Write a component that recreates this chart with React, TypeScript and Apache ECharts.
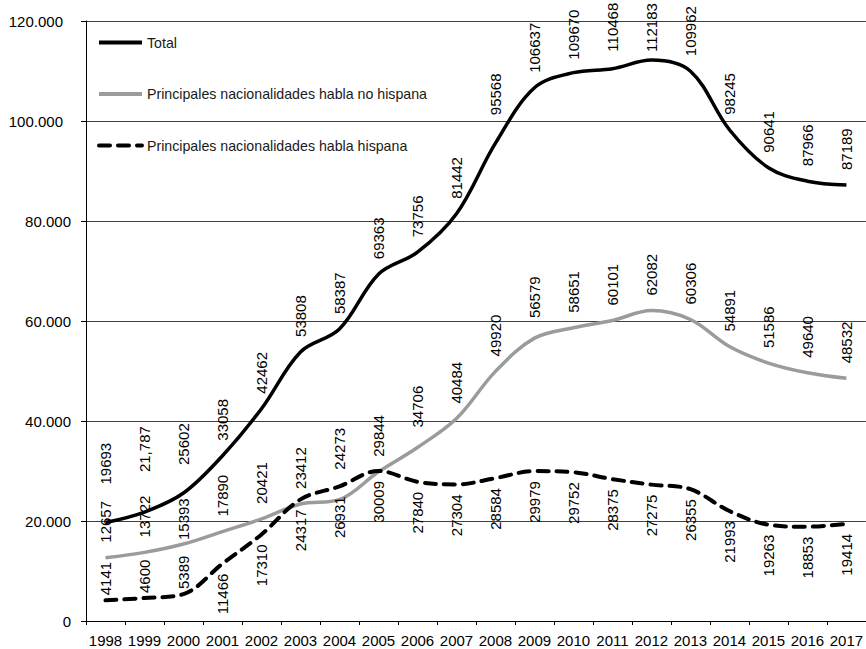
import React, { useEffect, useRef } from "react";
import * as echarts from "echarts";

const years = ["1998", "1999", "2000", "2001", "2002", "2003", "2004", "2005", "2006", "2007", "2008", "2009", "2010", "2011", "2012", "2013", "2014", "2015", "2016", "2017"];
const total = [19693, 21787, 25602, 33058, 42462, 53808, 58387, 69363, 73756, 81442, 95568, 106637, 109670, 110468, 112183, 109962, 98245, 90641, 87966, 87189];
const noHispana = [12657, 13722, 15393, 17890, 20421, 23412, 24273, 29844, 34706, 40484, 49920, 56579, 58651, 60101, 62082, 60306, 54891, 51586, 49640, 48532];
const hispana = [4141, 4600, 5389, 11466, 17310, 24317, 26931, 30009, 27840, 27304, 28584, 29979, 29752, 28375, 27275, 26355, 21993, 19263, 18853, 19414];
const yTickLabels = ["0", "20.000", "40.000", "60.000", "80.000", "100.000", "120.000"];
const seriesNames = ["Total", "Principales nacionalidades habla no hispana", "Principales nacionalidades habla hispana"];
const labelTextOverrides: Record<string, string> = { "0-1": "21,787" };

const FONT = '"Liberation Sans", Arial, Helvetica, sans-serif';

// label distance tweaks (style only)
const totalDist: Record<number, number> = { 0: 38, 1: 40, 2: 28, 10: 28, 14: 8, 13: 17, 12: 13 };
const greyDist: Record<number, number> = { 2: 4, 6: 30, 8: 20, 11: 20 };

export default function App() {
  const ref = useRef<HTMLDivElement>(null);
  useEffect(() => {
    if (!ref.current) return;
    const chart = echarts.init(ref.current, undefined, { renderer: "svg" });
    const baseLabel = {
      show: true,
      rotate: 90,
      fontSize: 15,
      fontFamily: FONT,
      color: "#000",
      verticalAlign: "middle" as const,
    };
    const labelFmt = (sIdx: number) => (p: any) =>
      labelTextOverrides[`${sIdx}-${p.dataIndex}`] ?? String(p.value);
    const above = (d: number) => ({ position: "top", align: "left", distance: d });
    const below = (d: number) => ({ position: "bottom", align: "right", distance: d });

    chart.setOption({
      animation: false,
      textStyle: { fontFamily: FONT },
      grid: { left: 86, top: 21, width: 785, height: 600 },
      legend: {
        orient: "vertical",
        left: 97,
        top: 35.5,
        padding: 0,
        itemGap: 37.5,
        itemWidth: 43,
        itemHeight: 17,
        data: seriesNames,
        textStyle: { fontSize: 14.2, fontFamily: FONT, color: "#1a1a1a" },
        itemStyle: { opacity: 0 },
        lineStyle: { width: 4 },
      },
      xAxis: {
        type: "category",
        data: years,
        boundaryGap: true,
        axisLine: { lineStyle: { color: "#000", width: 1 } },
        axisTick: { show: true, length: 4, interval: 0, lineStyle: { color: "#000" } },
        axisLabel: { interval: 0, margin: 12, fontSize: 15, fontFamily: FONT, color: "#000" },
      },
      yAxis: {
        type: "value",
        min: 0,
        max: 120000,
        interval: 20000,
        axisLine: { show: true, lineStyle: { color: "#000", width: 1 } },
        axisTick: { show: true, length: 5, lineStyle: { color: "#000" } },
        splitLine: { show: true, lineStyle: { color: "#404040", width: 1 } },
        axisLabel: {
          margin: 15,
          formatter: (v: number) => {
            const s = yTickLabels[Math.round(v / 20000)];
            return v >= 100000 ? `{w|${s}}` : `{n|${s}}`;
          },
          rich: {
            w: { fontSize: 15, fontFamily: FONT, color: "#000", padding: [0, 8, 0, 0] },
            n: { fontSize: 15, fontFamily: FONT, color: "#000" },
          },
        },
      },
      series: [
        {
          name: seriesNames[0],
          type: "line",
          smooth: 0.35,
          symbol: "circle",
          symbolSize: 0,
          showSymbol: true,
          lineStyle: { color: "#000", width: 3.5 },
          itemStyle: { color: "#000" },
          label: { ...baseLabel, formatter: labelFmt(0) },
          data: total.map((v, i) => ({ value: v, label: above(totalDist[i] ?? 15) })),
          z: 3,
        },
        {
          name: seriesNames[1],
          type: "line",
          smooth: 0.35,
          symbol: "circle",
          symbolSize: 0,
          showSymbol: true,
          lineStyle: { color: "#9b9b9b", width: 3.5 },
          itemStyle: { color: "#9b9b9b" },
          label: { ...baseLabel, formatter: labelFmt(1) },
          data: noHispana.map((v, i) => ({ value: v, label: above(greyDist[i] ?? 15) })),
          z: 2,
        },
        {
          name: seriesNames[2],
          type: "line",
          smooth: 0.35,
          symbol: "circle",
          symbolSize: 0,
          showSymbol: true,
          lineStyle: { color: "#000", width: 4, type: [11, 8], cap: "round" },
          itemStyle: { color: "#000" },
          label: { ...baseLabel, formatter: labelFmt(2) },
          data: hispana.map((v, i) => ({ value: v, label: i < 3 ? above(5) : below(10) })),
          z: 2,
        },
      ],
    });
    return () => chart.dispose();
  }, []);
  return <div ref={ref} style={{ position: "absolute", left: 0, top: 0, width: 866, height: 649 }} />;
}
